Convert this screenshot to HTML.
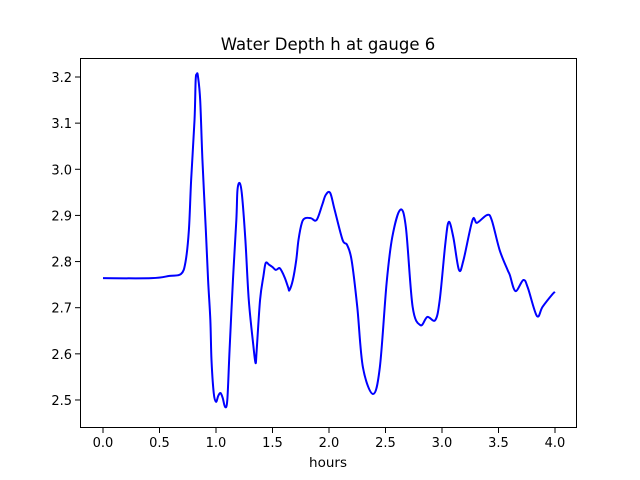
<!DOCTYPE html>
<html><head><meta charset="utf-8"><style>
body{margin:0;background:#fff}
svg{display:block;font-family:"DejaVu Sans","Liberation Sans",sans-serif}
</style></head><body>
<svg id="chart" width="640" height="480">
<rect width="640" height="480" fill="#fff"/>
<text x="328" y="50" text-anchor="middle" font-size="16.5">Water Depth h at gauge 6</text>
<g id="axes"></g>
<path id="line" fill="none" stroke="#0000ff" stroke-width="2"/>
<rect x="80.5" y="58.5" width="496" height="369" fill="none" stroke="#000" stroke-width="1"/>
<text x="328" y="467" text-anchor="middle" font-size="13.5">hours</text>
</svg>
<script>
const hours=[0,0.43,0.59,0.69,0.73,0.76,0.78,0.81,0.82,0.83,0.84,0.86,0.88,0.91,0.93,0.95,0.96,0.98,1.0,1.02,1.04,1.06,1.08,1.1,1.12,1.15,1.18,1.19,1.21,1.23,1.26,1.29,1.33,1.35,1.36,1.39,1.42,1.44,1.47,1.5,1.53,1.56,1.58,1.61,1.64,1.65,1.68,1.71,1.73,1.76,1.79,1.84,1.89,1.94,1.97,2.01,2.05,2.12,2.16,2.2,2.25,2.3,2.39,2.45,2.51,2.56,2.63,2.68,2.74,2.81,2.87,2.94,2.98,3.03,3.06,3.1,3.15,3.19,3.27,3.31,3.4,3.44,3.51,3.58,3.6,3.65,3.72,3.76,3.84,3.89,3.98,4.0];
const depth=[2.764,2.764,2.769,2.773,2.799,2.868,2.977,3.107,3.193,3.206,3.202,3.15,3.02,2.868,2.76,2.673,2.587,2.515,2.496,2.509,2.515,2.504,2.485,2.5,2.608,2.76,2.89,2.955,2.97,2.944,2.847,2.717,2.619,2.58,2.608,2.717,2.769,2.797,2.793,2.788,2.782,2.786,2.78,2.764,2.743,2.738,2.76,2.803,2.847,2.884,2.894,2.894,2.89,2.923,2.944,2.949,2.912,2.847,2.836,2.803,2.702,2.571,2.513,2.571,2.754,2.853,2.912,2.875,2.702,2.662,2.68,2.673,2.717,2.84,2.886,2.853,2.782,2.803,2.89,2.884,2.901,2.89,2.825,2.782,2.771,2.736,2.76,2.743,2.682,2.702,2.73,2.734];
const xTicks=[0,0.5,1,1.5,2,2.5,3,3.5,4];
const xTickLabels=["0.0","0.5","1.0","1.5","2.0","2.5","3.0","3.5","4.0"];
const yTicks=[2.5,2.6,2.7,2.8,2.9,3.0,3.1,3.2];
const yTickLabels=["2.5","2.6","2.7","2.8","2.9","3.0","3.1","3.2"];
const X=v=>103+v*113;
const Y=v=>77+(3.2-v)*461.4;
const NS="http://www.w3.org/2000/svg";
const ax=document.getElementById('axes');
xTicks.forEach((t,i)=>{
 const l=document.createElementNS(NS,'line');
 
 
 l.setAttribute('x1',X(t));l.setAttribute('x2',X(t));l.setAttribute('y1',428);l.setAttribute('y2',433);l.setAttribute('stroke','#000');
 ax.appendChild(l);
 const tx=document.createElementNS(NS,'text');
 
 
 tx.setAttribute('x',X(t));tx.setAttribute('y',447);tx.setAttribute('text-anchor','middle');tx.setAttribute('font-size','13');
 tx.textContent=xTickLabels[i];ax.appendChild(tx);
});
yTicks.forEach((t,i)=>{
 const l=document.createElementNS(NS,'line');
 
 
 l.setAttribute('x1',75);l.setAttribute('x2',80);l.setAttribute('y1',Y(t));l.setAttribute('y2',Y(t));l.setAttribute('stroke','#000');
 ax.appendChild(l);
 const tx=document.createElementNS(NS,'text');
 
 
 tx.setAttribute('x',72);tx.setAttribute('y',Y(t)+5);tx.setAttribute('text-anchor','end');tx.setAttribute('font-size','13');
 tx.textContent=yTickLabels[i];ax.appendChild(tx);
});
const P=hours.map((h,i)=>[X(h),Y(depth[i])]);
let d='M'+P[0][0]+','+P[0][1];
for(let i=0;i<P.length-1;i++){
 const p0=P[Math.max(0,i-1)],p1=P[i],p2=P[i+1],p3=P[Math.min(P.length-1,i+2)];
 const c1=[p1[0]+(p2[0]-p0[0])/6,p1[1]+(p2[1]-p0[1])/6];
 const c2=[p2[0]-(p3[0]-p1[0])/6,p2[1]-(p3[1]-p1[1])/6];
 d+=' C'+c1+' '+c2+' '+p2;
}
document.getElementById('line').setAttribute('d',d);
</script>
</body></html>
